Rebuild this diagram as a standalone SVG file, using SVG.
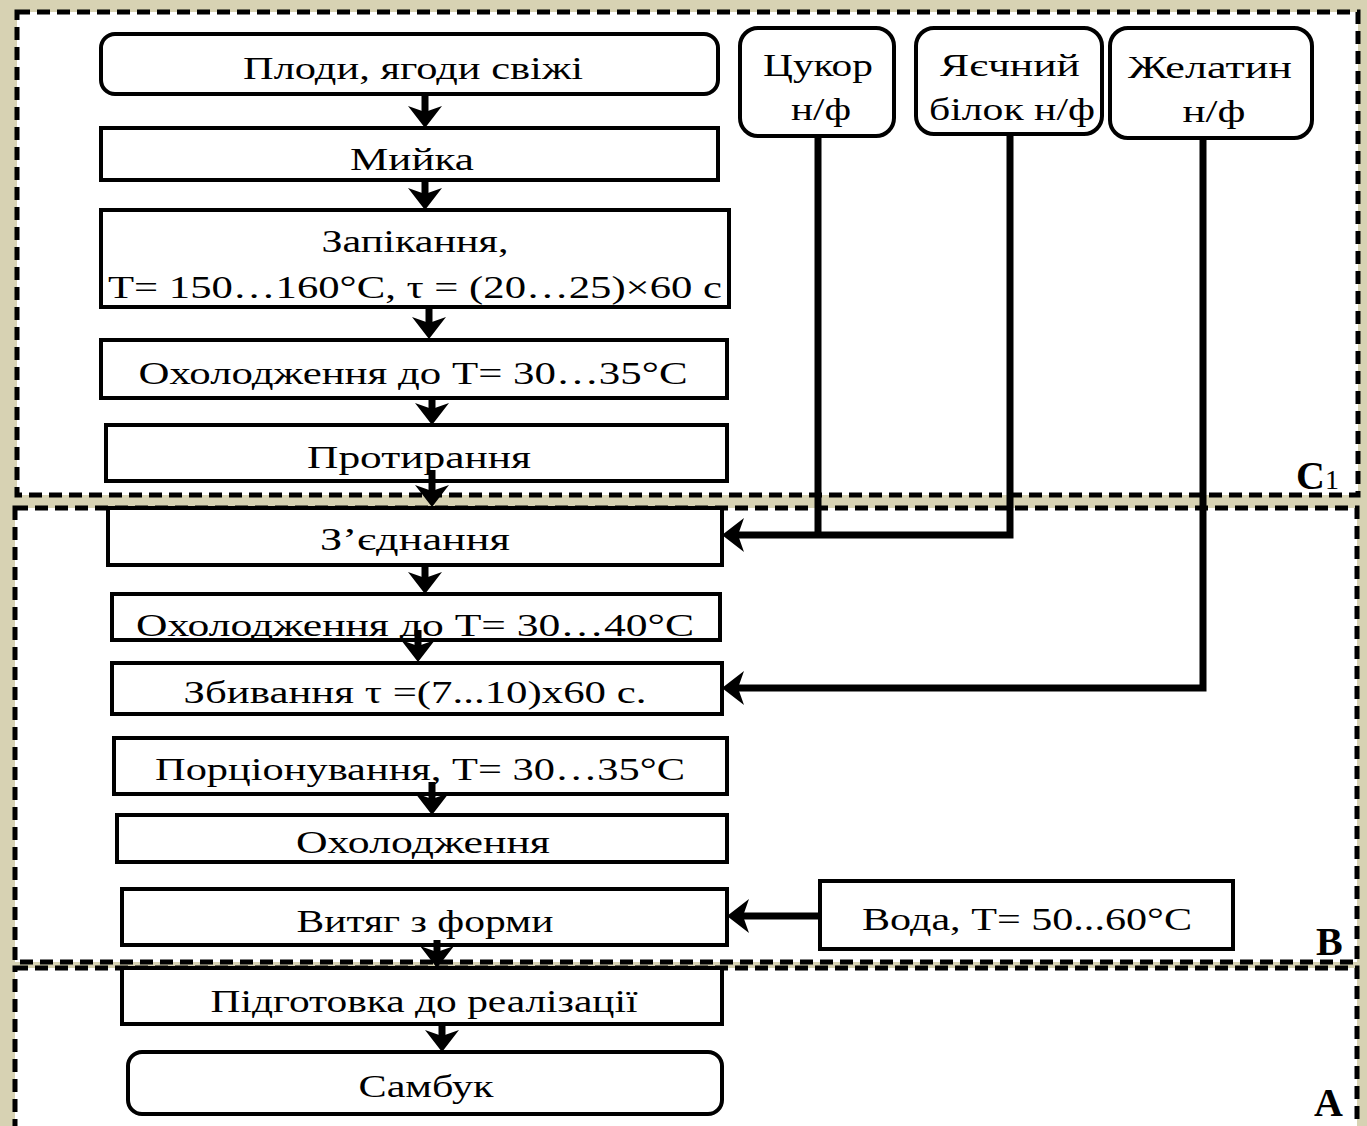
<svg xmlns="http://www.w3.org/2000/svg" width="1367" height="1126" viewBox="0 0 1367 1126">
<style>
.bg{fill:#d7d2b3}
.sec{fill:#ffffff;stroke:#000;stroke-width:5;stroke-dasharray:13 7}
.box{fill:#ffffff;stroke:#000;stroke-width:4}
.t{font-family:"Liberation Serif","Times New Roman",serif;font-size:32px;fill:#000;text-anchor:middle}
.lbl{font-family:"Liberation Serif","Times New Roman",serif;font-weight:bold;font-size:40px;fill:#000}
.c{fill:none;stroke:#000;stroke-width:7}
</style>
<defs>
<marker id="ah" viewBox="0 0 22 34" refX="12" refY="17" markerWidth="22" markerHeight="34" markerUnits="userSpaceOnUse" orient="auto">
<path d="M22,17 L0,0 L6,17 L0,34 Z" fill="#000"/>
</marker>
</defs>
<rect class="bg" x="0" y="0" width="1367" height="1126"/>
<g id="sections">
<rect class="sec" x="17" y="12" width="1341" height="483"/>
<rect class="sec" x="15" y="508" width="1342" height="454"/>
<rect class="sec" x="15" y="968" width="1342" height="180"/>
<text class="lbl" x="1296" y="489">C<tspan font-size="28" font-weight="normal">1</tspan></text>
<text class="lbl" x="1316" y="955">B</text>
<text class="lbl" x="1314" y="1116">A</text>
</g>
<g id="n1"><rect class="box" x="101" y="34" width="617" height="60" rx="14"/><text class="t" x="413" y="79" textLength="340" lengthAdjust="spacingAndGlyphs">Плоди, ягоди свіжі</text></g>
<g id="n2"><rect class="box" x="101" y="128" width="617" height="52"/><text class="t" x="412" y="170" textLength="124" lengthAdjust="spacingAndGlyphs">Мийка</text></g>
<g id="n3"><rect class="box" x="101" y="210" width="628" height="97"/><text class="t" x="415" y="252" textLength="187" lengthAdjust="spacingAndGlyphs">Запікання,</text><text class="t" x="415" y="298" textLength="614" lengthAdjust="spacingAndGlyphs">T= 150…160°C, τ = (20…25)×60 с</text></g>
<g id="n4"><rect class="box" x="101" y="340" width="626" height="58"/><text class="t" x="413" y="384" textLength="549" lengthAdjust="spacingAndGlyphs">Охолодження до T= 30…35°C</text></g>
<g id="n5"><rect class="box" x="106" y="425" width="621" height="56"/><text class="t" x="419" y="468" textLength="224" lengthAdjust="spacingAndGlyphs">Протирання</text></g>
<g id="n6"><rect class="box" x="108" y="508" width="614" height="57"/><text class="t" x="415" y="550" textLength="190" lengthAdjust="spacingAndGlyphs">З’єднання</text></g>
<g id="n7"><rect class="box" x="112" y="594" width="608" height="46"/><text class="t" x="415" y="636" textLength="558" lengthAdjust="spacingAndGlyphs">Охолодження до  T= 30…40°C</text></g>
<g id="n8"><rect class="box" x="112" y="663" width="610" height="51"/><text class="t" x="415" y="703" textLength="463" lengthAdjust="spacingAndGlyphs">Збивання τ =(7...10)х60 с.</text></g>
<g id="n9"><rect class="box" x="114" y="738" width="613" height="56"/><text class="t" x="420" y="780" textLength="530" lengthAdjust="spacingAndGlyphs">Порціонування, T= 30…35°C</text></g>
<g id="n10"><rect class="box" x="117" y="815" width="610" height="47"/><text class="t" x="423" y="853" textLength="254" lengthAdjust="spacingAndGlyphs">Охолодження</text></g>
<g id="n11"><rect class="box" x="122" y="889" width="605" height="56"/><text class="t" x="425" y="932" textLength="257" lengthAdjust="spacingAndGlyphs">Витяг з форми</text></g>
<g id="n12"><rect class="box" x="122" y="968" width="600" height="56"/><text class="t" x="424" y="1012" textLength="427" lengthAdjust="spacingAndGlyphs">Підготовка до реалізації</text></g>
<g id="n13"><rect class="box" x="128" y="1052" width="594" height="62" rx="14"/><text class="t" x="426" y="1097" textLength="135" lengthAdjust="spacingAndGlyphs">Самбук</text></g>
<g id="n14"><rect class="box" x="740" y="28" width="154" height="108" rx="18"/><text class="t" x="818" y="76" textLength="110" lengthAdjust="spacingAndGlyphs">Цукор</text><text class="t" x="821" y="120" textLength="60" lengthAdjust="spacingAndGlyphs">н/ф</text></g>
<g id="n15"><rect class="box" x="916" y="28" width="186" height="106" rx="18"/><text class="t" x="1010" y="76" textLength="140" lengthAdjust="spacingAndGlyphs">Яєчний</text><text class="t" x="1012" y="120" textLength="166" lengthAdjust="spacingAndGlyphs">білок н/ф</text></g>
<g id="n16"><rect class="box" x="1110" y="28" width="202" height="110" rx="18"/><text class="t" x="1210" y="78" textLength="164" lengthAdjust="spacingAndGlyphs">Желатин</text><text class="t" x="1214" y="122" textLength="63" lengthAdjust="spacingAndGlyphs">н/ф</text></g>
<g id="n17"><rect class="box" x="820" y="881" width="413" height="68"/><text class="t" x="1027" y="930" textLength="330" lengthAdjust="spacingAndGlyphs">Вода, T= 50...60°C</text></g>
<g id="connectors">
<path class="c" d="M425,94 V118" marker-end="url(#ah)"/>
<path class="c" d="M425,180 V200" marker-end="url(#ah)"/>
<path class="c" d="M429,307 V329" marker-end="url(#ah)"/>
<path class="c" d="M432,398 V415" marker-end="url(#ah)"/>
<path class="c" d="M432,470 V497" marker-end="url(#ah)"/>
<path class="c" d="M425,565 V584" marker-end="url(#ah)"/>
<path class="c" d="M418,630 V652" marker-end="url(#ah)"/>
<path class="c" d="M432,782 V805" marker-end="url(#ah)"/>
<path class="c" d="M437,940 V958" marker-end="url(#ah)"/>
<path class="c" d="M442,1024 V1042" marker-end="url(#ah)"/>
<path class="c" d="M818,136 V535"/>
<path class="c" d="M1010,134 V535 H732" marker-end="url(#ah)"/>
<path class="c" d="M1203,138 V688 H732" marker-end="url(#ah)"/>
<path class="c" d="M820,916 H737" stroke-width="6" marker-end="url(#ah)"/>
</g>
</svg>
